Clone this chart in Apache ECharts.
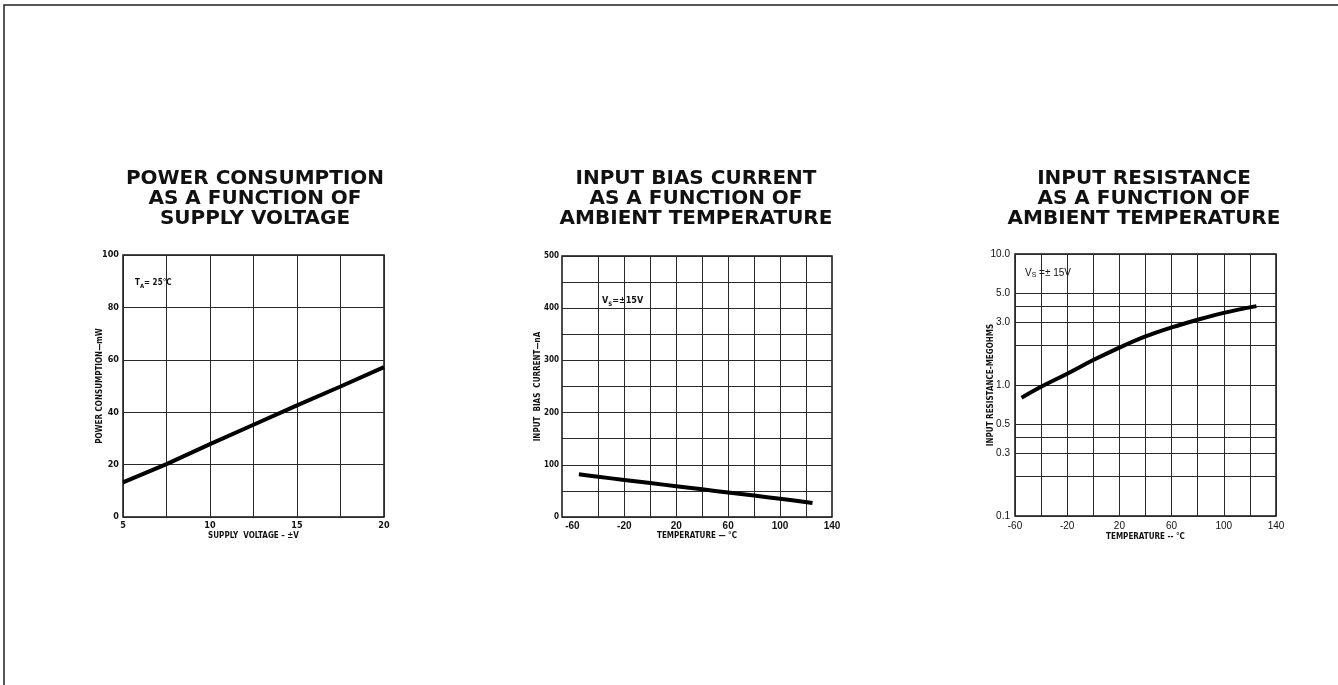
<!DOCTYPE html>
<html><head><meta charset="utf-8">
<script src="https://cdn.jsdelivr.net/npm/echarts@6/dist/echarts.min.js"></script>
<style>html,body{margin:0;padding:0;background:#fff}#c{width:1338px;height:685px}</style>
</head><body><div id="c"></div>
<script>
// ---- data ----
const powerVoltage = [5, 7.5, 10, 12.5, 15, 17.5, 20];
const powerMw = [13.2, 20.2, 27.8, 35.2, 42.6, 49.8, 57.2];

const biasTemp = [-55, -40, -20, 0, 20, 40, 60, 80, 100, 125];
const biasNa = [82, 77, 71, 65, 59, 53, 47, 41, 35, 27];

const resTemp = [-55, -40, -20, 0, 20, 40, 60, 80, 100, 125];
const resMeg = [0.80, 0.97, 1.22, 1.55, 1.93, 2.35, 2.75, 3.15, 3.55, 4.0];

const tempGridValues = [-40, -20, 0, 20, 40, 60, 80, 100, 120];
const tempLabelValues = [-60, -20, 20, 60, 100, 140];
const resGridValues = [0.1, 0.2, 0.3, 0.4, 0.5, 1, 2, 3, 4, 5, 10];
const resLabelValues = [0.1, 0.3, 0.5, 1, 3, 5, 10];

const titleTexts = [
  'POWER CONSUMPTION\nAS A FUNCTION OF\nSUPPLY VOLTAGE',
  'INPUT BIAS CURRENT\nAS A FUNCTION OF\nAMBIENT TEMPERATURE',
  'INPUT RESISTANCE\nAS A FUNCTION OF\nAMBIENT TEMPERATURE'
];
const xAxisNames = ['SUPPLY  VOLTAGE – ±V', 'TEMPERATURE — °C', 'TEMPERATURE -- °C'];
const yAxisNames = ['POWER CONSUMPTION—mW', 'INPUT  BIAS  CURRENT—nA', 'INPUT RESISTANCE-MEGOHMS'];

// ---- styling ----
const INK = '#111';
const COND = '"DejaVu Sans Condensed", "Liberation Sans", sans-serif';
const SANS = '"Liberation Sans", Arial, sans-serif';
const gridLine = {show: true, lineStyle: {color: '#2a2a2a', width: 1}};
const lblNarrow = {fontFamily: COND, fontWeight: 'bold', fontSize: 9, color: INK};
const lblSmall = {fontFamily: COND, fontWeight: 'bold', fontSize: 8, color: INK};
const lblWide = {fontFamily: SANS, fontWeight: 'bold', fontSize: 10, color: INK};
const lblReg = {fontFamily: SANS, fontWeight: 'normal', fontSize: 10, color: INK};
const nameStyle = {fontFamily: COND, fontWeight: 'bold', fontSize: 8, color: INK};
const gridBase = {show: true, borderColor: INK, borderWidth: 1.5, backgroundColor: 'transparent'};
const zip = (xs, ys) => xs.map((x, i) => [x, ys[i]]);

const chart = echarts.init(document.getElementById('c'), null, {renderer: 'canvas'});
chart.setOption({
  animation: false,
  backgroundColor: '#fff',
  grid: [
    Object.assign({left: 123, top: 255, width: 261, height: 262}, gridBase),
    Object.assign({left: 562, top: 256, width: 270, height: 261}, gridBase),
    Object.assign({left: 1015, top: 254, width: 261, height: 262}, gridBase)
  ],
  xAxis: [
    {
      gridIndex: 0, type: 'value', min: 5, max: 20, interval: 2.5,
      splitLine: gridLine, axisLine: {show: false}, axisTick: {show: false},
      axisLabel: Object.assign({margin: 4, formatter: v => (v % 5 === 0 ? String(v) : '')}, lblNarrow),
      name: xAxisNames[0], nameLocation: 'middle', nameGap: 15, nameMoveOverlap: false, nameTextStyle: nameStyle
    },
    {
      gridIndex: 1, type: 'value', min: -68, max: 140,
      splitLine: gridLine, axisLine: {show: false},
      axisTick: {show: false, customValues: tempGridValues},
      axisLabel: Object.assign({margin: 4, customValues: tempLabelValues}, lblWide),
      name: xAxisNames[1], nameLocation: 'middle', nameGap: 15, nameMoveOverlap: false, nameTextStyle: nameStyle
    },
    {
      gridIndex: 2, type: 'value', min: -60, max: 140, interval: 20,
      splitLine: gridLine, axisLine: {show: false}, axisTick: {show: false},
      axisLabel: Object.assign({margin: 5, formatter: v => ((v + 60) % 40 === 0 ? String(v) : '')}, lblReg),
      name: xAxisNames[2], nameLocation: 'middle', nameGap: 17, nameMoveOverlap: false, nameTextStyle: nameStyle
    }
  ],
  yAxis: [
    {
      gridIndex: 0, type: 'value', min: 0, max: 100, interval: 20,
      splitLine: gridLine, axisLine: {show: false}, axisTick: {show: false},
      axisLabel: Object.assign({margin: 4}, lblNarrow),
      name: yAxisNames[0], nameLocation: 'middle', nameRotate: 90, nameGap: 19, nameMoveOverlap: false, nameTextStyle: nameStyle
    },
    {
      gridIndex: 1, type: 'value', min: 0, max: 500, interval: 50,
      splitLine: gridLine, axisLine: {show: false}, axisTick: {show: false},
      axisLabel: Object.assign({margin: 3, formatter: v => (v % 100 === 0 ? String(v) : '')}, lblSmall),
      name: yAxisNames[1], nameLocation: 'middle', nameRotate: 90, nameGap: 20, nameMoveOverlap: false, nameTextStyle: nameStyle
    },
    {
      gridIndex: 2, type: 'log', logBase: 10, min: 0.1, max: 10,
      splitLine: gridLine, axisLine: {show: false},
      axisTick: {show: false, customValues: resGridValues},
      axisLabel: Object.assign({margin: 5, customValues: resLabelValues, formatter: v => Number(v).toFixed(1)}, lblReg),
      name: yAxisNames[2], nameLocation: 'middle', nameRotate: 90, nameGap: 20, nameMoveOverlap: false, nameTextStyle: nameStyle
    }
  ],
  series: [
    {type: 'line', xAxisIndex: 0, yAxisIndex: 0, data: zip(powerVoltage, powerMw), showSymbol: false, silent: true,
      lineStyle: {color: '#000', width: 4}},
    {type: 'line', xAxisIndex: 1, yAxisIndex: 1, data: zip(biasTemp, biasNa), showSymbol: false, silent: true, smooth: 0.3,
      lineStyle: {color: '#000', width: 4}},
    {type: 'line', xAxisIndex: 2, yAxisIndex: 2, data: zip(resTemp, resMeg), showSymbol: false, silent: true, smooth: 0.4,
      lineStyle: {color: '#000', width: 4}}
  ],
  graphic: [
    {type: 'polyline', silent: true, shape: {points: [[4, 685], [4, 5], [1338, 5]]},
      style: {stroke: '#222', lineWidth: 1.5, fill: null}},
    {type: 'text', x: 255, y: 169, silent: true,
      style: {text: titleTexts[0], font: 'bold 20px "DejaVu Sans"', lineHeight: 20, textAlign: 'center', textVerticalAlign: 'top', fill: INK}},
    {type: 'text', x: 696, y: 169, silent: true,
      style: {text: titleTexts[1], font: 'bold 20px "DejaVu Sans"', lineHeight: 20, textAlign: 'center', textVerticalAlign: 'top', fill: INK}},
    {type: 'text', x: 1144, y: 169, silent: true,
      style: {text: titleTexts[2], font: 'bold 20px "DejaVu Sans"', lineHeight: 20, textAlign: 'center', textVerticalAlign: 'top', fill: INK}},
    {type: 'text', x: 135, y: 283, silent: true,
      style: {text: '{n|T}{s|A}{n|= 25°C}', textVerticalAlign: 'middle', fill: INK,
        rich: {n: {fontFamily: COND, fontWeight: 'bold', fontSize: 8, lineHeight: 12, verticalAlign: 'middle'},
               s: {fontFamily: COND, fontWeight: 'bold', fontSize: 6, lineHeight: 12, verticalAlign: 'bottom'}}}},
    {type: 'text', x: 602, y: 301, silent: true,
      style: {text: '{n|V}{s|S}{n|=±15V}', textVerticalAlign: 'middle', fill: INK,
        rich: {n: {fontFamily: COND, fontWeight: 'bold', fontSize: 9, lineHeight: 12, verticalAlign: 'middle'},
               s: {fontFamily: COND, fontWeight: 'bold', fontSize: 6, lineHeight: 12, verticalAlign: 'bottom'}}}},
    {type: 'text', x: 1025, y: 273, silent: true,
      style: {text: '{n|V}{s|S}{n| =± 15V}', textVerticalAlign: 'middle', fill: INK,
        rich: {n: {fontFamily: SANS, fontSize: 10, lineHeight: 12, verticalAlign: 'middle'},
               s: {fontFamily: SANS, fontSize: 7, lineHeight: 12, verticalAlign: 'bottom'}}}}
  ]
});
</script>
</body></html>
